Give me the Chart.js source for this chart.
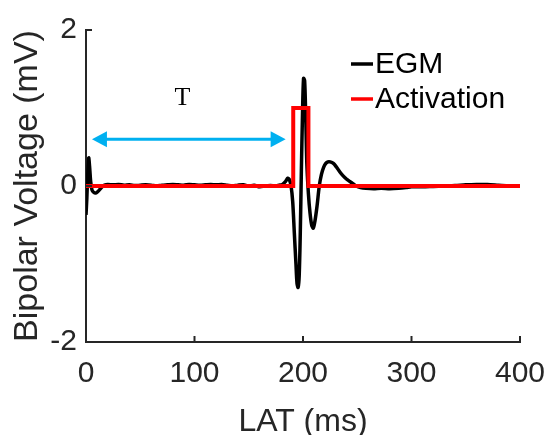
<!DOCTYPE html>
<html>
<head>
<meta charset="utf-8">
<script src="https://cdn.jsdelivr.net/npm/chart.js@4.4.1/dist/chart.umd.min.js"></script>
<style>
  html, body { margin: 0; padding: 0; background: #fff; }
  #wrap { width: 550px; height: 435px; }
</style>
</head>
<body>
<div id="wrap"><canvas id="grafico" width="550" height="435"></canvas></div>
<script>
// datos
const egmTime = [0, 0.8, 1.6, 2.5, 3.3, 4.3, 5.5, 7, 9, 11, 13, 15, 17, 20, 25, 30, 35, 40, 45, 50, 55, 60, 65, 70, 75, 80, 85, 90, 95, 100,
  105, 110, 115, 120, 125, 130, 135, 140, 145, 150, 155, 160, 165, 170, 175, 178, 181, 184, 186, 187.5, 189, 190.5, 192, 193.5, 194.5,
  195.5, 196.5, 197.5, 198.5, 199.5, 200.5, 201.5, 202.5, 203.5, 205, 206.5, 208, 209.5, 211, 213, 215, 217, 219, 221, 223, 225, 228,
  231, 234, 237, 240, 243, 246, 249, 253, 258, 265, 272, 280, 288, 295, 300, 310, 320, 330, 340, 350, 360, 370, 380, 390, 400];
const egmVolt = [-0.37, -0.15, 0.15, 0.36, 0.25, 0.06, -0.05, -0.08, -0.09, -0.07, -0.04, -0.01, 0.01, 0.02, 0.015, 0.02, 0.01, 0.015, 0.005, 0.01, 0.015, 0.01, 0.0, 0.01, 0.015, 0.02, 0.015, 0.01, 0.02, 0.015,
  0.01, 0.015, 0.02, 0.015, 0.02, 0.01, 0.0, 0.01, 0.015, 0.0, 0.01, -0.01, 0.0, 0.005, 0.0, 0.01, 0.02, 0.06, 0.1, 0.08, 0.0, -0.2, -0.6, -1.0, -1.25,
  -1.3, -1.15, -0.6, 0.2, 0.9, 1.38, 1.35, 0.9, 0.3, -0.1, -0.35, -0.5, -0.54, -0.45, -0.25, 0.0, 0.15, 0.24, 0.29, 0.31, 0.31, 0.29, 0.24,
  0.18, 0.13, 0.09, 0.06, 0.03, 0.0, -0.02, -0.03, -0.035, -0.03, -0.035, -0.03, -0.02, -0.01, -0.01, -0.005, 0.0, 0.005, 0.015, 0.02, 0.02, 0.01, 0.0, 0.0, 0.0];

const actTime = [0, 191, 191, 205, 205, 400];
const actVolt = [0, 0, 1, 1, 0, 0];

// flecha T
const flechaX = [5.5, 184];
const flechaY = 0.6;
const etiquetaT = { texto: "T", x: 89, y: 1.12 };

const xTicks = [0, 100, 200, 300, 400];
const yTicks = [-2, 0, 2];

const toPoints = (xs, ys) => xs.map((x, i) => ({ x: x, y: ys[i] }));

const ejeColor = "#262626";
const fuente = "'Liberation Sans', Arial, sans-serif";

// plugin: ticks hacia adentro, flecha, T y leyenda
const extras = {
  id: "extras",
  afterDatasetsDraw(chart) {
    const ctx = chart.ctx;
    const xs = chart.scales.x, ys = chart.scales.y;
    const area = chart.chartArea;
    ctx.save();
    // ticks
    ctx.strokeStyle = ejeColor;
    ctx.lineWidth = 2;
    xTicks.forEach((v) => {
      const px = xs.getPixelForValue(v);
      ctx.beginPath();
      ctx.moveTo(px, area.bottom);
      ctx.lineTo(px, area.bottom - 6);
      ctx.stroke();
    });
    yTicks.forEach((v) => {
      const py = ys.getPixelForValue(v);
      ctx.beginPath();
      ctx.moveTo(area.left, py);
      ctx.lineTo(area.left + 6, py);
      ctx.stroke();
    });

    // flecha doble
    const x1 = xs.getPixelForValue(flechaX[0]);
    const x2 = xs.getPixelForValue(flechaX[1]);
    const y0 = ys.getPixelForValue(flechaY);
    const largo = 15, alto = 8;
    ctx.strokeStyle = "#00b0f0";
    ctx.fillStyle = "#00b0f0";
    ctx.lineWidth = 3;
    ctx.beginPath();
    ctx.moveTo(x1 + largo - 2, y0);
    ctx.lineTo(x2 - largo + 2, y0);
    ctx.stroke();
    ctx.beginPath();
    ctx.moveTo(x1, y0);
    ctx.lineTo(x1 + largo, y0 - alto);
    ctx.lineTo(x1 + largo, y0 + alto);
    ctx.closePath();
    ctx.fill();
    ctx.beginPath();
    ctx.moveTo(x2, y0);
    ctx.lineTo(x2 - largo, y0 - alto);
    ctx.lineTo(x2 - largo, y0 + alto);
    ctx.closePath();
    ctx.fill();

    // T
    ctx.fillStyle = "#000";
    ctx.font = "26px 'Liberation Serif', serif";
    ctx.textAlign = "center";
    ctx.textBaseline = "middle";
    ctx.fillText(etiquetaT.texto, xs.getPixelForValue(etiquetaT.x), ys.getPixelForValue(etiquetaT.y));

    // leyenda
    const items = [chart.data.datasets[0], chart.data.datasets[1]];
    ctx.font = "30px " + fuente;
    ctx.textAlign = "left";
    items.forEach((ds, i) => {
      const yy = 64 + i * 35;
      ctx.strokeStyle = ds.borderColor;
      ctx.lineWidth = 3.5;
      ctx.beginPath();
      ctx.moveTo(351, yy);
      ctx.lineTo(373, yy);
      ctx.stroke();
      ctx.fillStyle = "#000";
      ctx.fillText(ds.label, 375, yy + 1);
    });
    ctx.restore();
  }
};

new Chart(document.getElementById("grafico"), {
  type: "line",
  data: {
    datasets: [
      {
        label: "EGM",
        data: toPoints(egmTime, egmVolt),
        borderColor: "#000000",
        borderWidth: 3.5,
        pointRadius: 0,
        tension: 0.3,
        order: 2
      },
      {
        label: "Activation",
        data: toPoints(actTime, actVolt),
        borderColor: "#ff0000",
        borderWidth: 4,
        pointRadius: 0,
        tension: 0,
        order: 1
      }
    ]
  },
  options: {
    responsive: false,
    animation: false,
    events: [],
    layout: { padding: { top: 30, right: 30, left: 0, bottom: 0 } },
    plugins: { legend: { display: false }, tooltip: { enabled: false } },
    scales: {
      x: {
        type: "linear",
        min: 0,
        max: 400,
        afterFit: (s) => { s.height = 93; s.paddingRight = 0; s.paddingLeft = 0; },
        afterBuildTicks: (s) => { s.ticks = xTicks.map((v) => ({ value: v })); },
        ticks: { color: ejeColor, padding: 14, maxRotation: 0, font: { size: 30, family: fuente } },
        grid: { display: true, drawOnChartArea: false, drawTicks: false },
        border: { display: true, color: ejeColor, width: 2 },
        title: { display: true, text: "LAT (ms)", color: ejeColor, padding: { top: 0, bottom: 0 },
          font: { size: 32, lineHeight: 0.8, family: fuente } }
      },
      y: {
        min: -2,
        max: 2,
        afterFit: (s) => { s.width = 86; },
        afterBuildTicks: (s) => { s.ticks = yTicks.map((v) => ({ value: v })); },
        ticks: { color: ejeColor, padding: 9, font: { size: 30, family: fuente } },
        grid: { display: true, drawOnChartArea: false, drawTicks: false },
        border: { display: true, color: ejeColor, width: 2 },
        title: { display: true, text: "Bipolar Voltage (mV)", color: ejeColor, padding: { top: 11, bottom: 0 },
          font: { size: 34, lineHeight: 1, family: fuente } }
      }
    }
  },
  plugins: [extras]
});
</script>
</body>
</html>
